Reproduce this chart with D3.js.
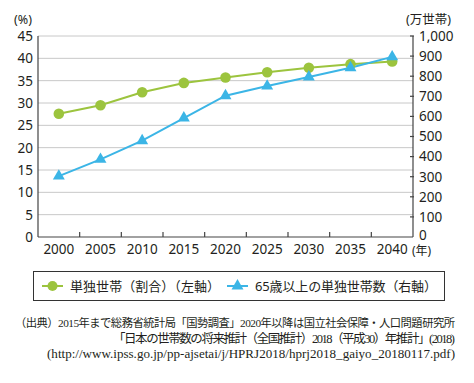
<!DOCTYPE html>
<html><head><meta charset="utf-8">
<script src="https://cdn.jsdelivr.net/npm/d3@7/dist/d3.min.js"></script>
<style>
body{margin:0;background:#fff;}
text{font-family:"Noto Sans","Noto Sans CJK JP",sans-serif;fill:#231f20;}
.src{font-family:"Liberation Serif","Noto Sans CJK JP",serif;}
</style></head>
<body><svg id="c" width="474" height="383"></svg>
<script>
const years = ["2000","2005","2010","2015","2020","2025","2030","2035","2040"];
const shareValues = [27.6, 29.5, 32.4, 34.5, 35.7, 36.9, 37.9, 38.7, 39.3];
const elderlyValues = [303, 386, 479, 592, 703, 751, 796, 842, 896];
const leftTicks = [0,5,10,15,20,25,30,35,40,45];
const rightTicks = [0,100,200,300,400,500,600,700,800,900,1000];
const seriesNames = ["単独世帯（割合）（左軸）", "65歳以上の単独世帯数（右軸）"];
const sourceLines = [
  "（出典）2015年まで総務省統計局「国勢調査」2020年以降は国立社会保障・人口問題研究所",
  "「日本の世帯数の将来推計（全国推計）2018（平成30）年推計」(2018)",
  "(http://www.ipss.go.jp/pp-ajsetai/j/HPRJ2018/hprj2018_gaiyo_20180117.pdf)"
];
const green = "#9cc43e", blue = "#3bb5e6";

const svg = d3.select("#c");
const L = 38, R = 413, T = 36, B = 237;
const x = d3.scaleBand().domain(years).range([L, R]);
const yL = d3.scaleLinear().domain([0,45]).range([B, T]);
const yR = d3.scaleLinear().domain([0,1000]).range([B, T]);

// gridlines
svg.append("g").selectAll("line").data(leftTicks.filter(d=>d>0)).join("line")
  .attr("x1", L).attr("x2", R).attr("y1", d=>yL(d)).attr("y2", d=>yL(d))
  .attr("stroke", "#c8c8c8").attr("stroke-width", 1);

// axes lines
svg.append("line").attr("x1", L).attr("x2", L).attr("y1", T).attr("y2", B).attr("stroke", "#444").attr("stroke-width",1.2);
svg.append("line").attr("x1", R).attr("x2", R).attr("y1", T).attr("y2", B).attr("stroke", "#444").attr("stroke-width",1.2);
svg.append("line").attr("x1", L).attr("x2", R).attr("y1", B).attr("y2", B).attr("stroke", "#444").attr("stroke-width",1.2);

// x ticks (inside)
svg.append("g").selectAll("line").data(years.slice(1)).join("line")
  .attr("x1", d=>x(d)).attr("x2", d=>x(d)).attr("y1", B).attr("y2", B-5)
  .attr("stroke", "#444").attr("stroke-width",1.2);
// right ticks
svg.append("g").selectAll("line").data(rightTicks.slice(1)).join("line")
  .attr("x1", R-3).attr("x2", R+1).attr("y1", d=>yR(d)).attr("y2", d=>yR(d))
  .attr("stroke", "#444").attr("stroke-width",1.2);

// left labels
svg.append("g").selectAll("text").data(leftTicks).join("text")
  .attr("x", 33).attr("y", d=>yL(d)).attr("dy","0.36em").attr("text-anchor","end")
  .attr("font-size", 13.5).text(d=>d);
svg.append("g").selectAll("text").data(rightTicks).join("text")
  .attr("x", 419).attr("y", d=>yR(d)).attr("dy", d=>d===0?"0.2em":"0.36em").attr("text-anchor","start")
  .attr("font-size", 13.5).text(d=>d3.format(",")(d));
svg.append("g").selectAll("text").data(years).join("text")
  .attr("x", d=>x(d)+x.bandwidth()/2).attr("y", 254).attr("text-anchor","middle")
  .attr("font-size", 13.5).text(d=>d);
svg.append("text").attr("x", 412).attr("y", 255).attr("font-size", 12).text("(年)");
svg.append("text").attr("x", 14).attr("y", 24).attr("font-size", 12.5).text("(%)");
svg.append("text").attr("x", 406).attr("y", 24).attr("font-size", 12.5).text("(万世帯)");

const cx = d=>x(d)+x.bandwidth()/2;
// green line
svg.append("path").datum(shareValues)
  .attr("d", d3.line().x((d,i)=>cx(years[i])).y(d=>yL(d)))
  .attr("fill","none").attr("stroke", green).attr("stroke-width", 2);
// blue line
svg.append("path").datum(elderlyValues)
  .attr("d", d3.line().x((d,i)=>cx(years[i])).y(d=>yR(d)))
  .attr("fill","none").attr("stroke", blue).attr("stroke-width", 2);
svg.append("g").selectAll("circle").data(shareValues).join("circle")
  .attr("cx", (d,i)=>cx(years[i])).attr("cy", d=>yL(d)).attr("r", 5.3).attr("fill", green);
const tri = d3.symbol().type(d3.symbolTriangle).size(62);
svg.append("g").selectAll("path").data(elderlyValues).join("path")
  .attr("d", tri).attr("transform", (d,i)=>`translate(${cx(years[i])},${yR(d)})`).attr("fill", blue);

// legend
svg.append("rect").attr("x", 33.5).attr("y", 271.5).attr("width", 411).attr("height", 29)
  .attr("fill","none").attr("stroke","#333").attr("stroke-width",1);
const ly = 286;
svg.append("line").attr("x1",42).attr("x2",63).attr("y1",ly).attr("y2",ly).attr("stroke",green).attr("stroke-width",2);
svg.append("circle").attr("cx",52.5).attr("cy",ly).attr("r",5).attr("fill",green);
svg.append("text").attr("x",70).attr("y",ly).attr("dy","0.35em").attr("font-size",13).attr("textLength",150).text(seriesNames[0]);
svg.append("line").attr("x1",227).attr("x2",248).attr("y1",ly).attr("y2",ly).attr("stroke",blue).attr("stroke-width",2);
svg.append("path").attr("d", tri).attr("transform",`translate(237.5,${ly})`).attr("fill",blue);
svg.append("text").attr("x",255).attr("y",ly).attr("dy","0.35em").attr("font-size",13).attr("textLength",182).text(seriesNames[1]);

// source
svg.append("text").attr("class","src").attr("x",15).attr("y",327).attr("font-size",11.3).attr("textLength",440).attr("lengthAdjust","spacing").text(sourceLines[0]);
svg.append("text").attr("class","src").attr("x",113).attr("y",343).attr("font-size",12.5).attr("textLength",342).attr("lengthAdjust","spacing").text(sourceLines[1]);
svg.append("text").attr("class","src").attr("x",47).attr("y",358).attr("font-size",13).attr("textLength",408).attr("lengthAdjust","spacingAndGlyphs").text(sourceLines[2]);
</script></body></html>
